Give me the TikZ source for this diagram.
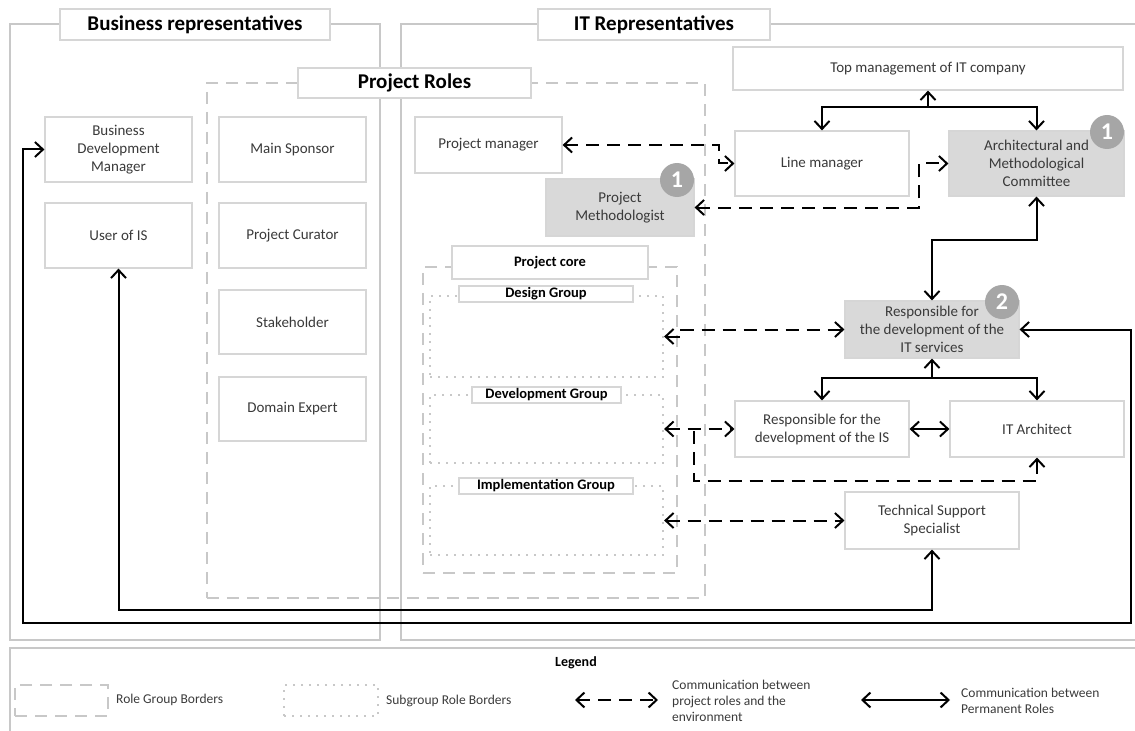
\documentclass[tikz,border=0pt]{standalone}
\usepackage{fontspec}
\setmainfont{Carlito}
\usetikzlibrary{arrows.meta}
\definecolor{framegray}{HTML}{C8C8C8}
\definecolor{boxgray}{HTML}{D6D6D6}
\definecolor{shade}{HTML}{D9D9D9}
\definecolor{badgegray}{HTML}{A6A6A6}
\definecolor{txt}{HTML}{3A3A3A}
\begin{document}
\begin{tikzpicture}[x=1bp,y=-1bp,
  >={Straight Barb[length=8bp,width=15bp]},
  rb/.style 2 args={minimum width=#1bp,minimum height=#2bp},
  frame/.style={draw=framegray,line width=2.5bp,inner sep=0},
  rolegroup/.style={draw=framegray,line width=2.5bp,dash pattern=on 12bp off 8bp,inner sep=0},
  subgroup/.style={draw=framegray,line width=2.2bp,dash pattern=on 2bp off 6bp,inner sep=0},
  title/.style={draw=boxgray,line width=1.2bp,fill=white,inner sep=0,text=black,
    font=\fontsize{21bp}{25bp}\selectfont\bfseries},
  grplabel/.style={draw=boxgray,line width=1.2bp,fill=white,inner sep=0,text=black,
    font=\fontsize{14.5bp}{17bp}\selectfont\bfseries},
  role/.style={draw=boxgray,line width=1.2bp,fill=white,inner sep=0,text=txt,align=center,
    font=\fontsize{15bp}{18bp}\selectfont},
  permrole/.style={role,fill=shade},
  badge/.style={circle,fill=badgegray,minimum size=34bp,inner sep=0,text=white,
    font=\fontsize{24bp}{24bp}\selectfont\bfseries},
  legtext/.style={inner sep=0,text=txt,align=left,font=\fontsize{13.5bp}{16bp}\selectfont},
  envlink/.style={draw=black,line width=2bp,dash pattern=on 13bp off 8bp},
  permlink/.style={draw=black,line width=2bp}
]
\useasboundingbox (0,0) rectangle (1135,731);
\clip (0,0) rectangle (1135,731);

% outer frames
\node[frame,rb={370}{616}] (bizframe) at (195,332) {};
\node[frame,rb={739}{616}] (itframe) at (770.5,332) {};
\node[frame,rb={1130}{97}] (legframe) at (575,696.5) {};

% project role groups
\node[rolegroup,rb={498}{515}] (rolesframe) at (456,340.5) {};
\node[rolegroup,rb={254}{306}] (coreframe) at (550,420) {};
\node[subgroup,rb={233}{81}] (design) at (546.5,336.5) {};
\node[subgroup,rb={233}{68}] (devgrp) at (546.5,429) {};
\node[subgroup,rb={233}{69}] (implgrp) at (546.5,520.5) {};

% titles
\node[title,rb={270}{31}] (bizlbl) at (195,24.5) {Business representatives};
\node[title,rb={232}{31}] (itlbl) at (654,24.5) {IT Representatives};
\node[title,rb={233}{30}] (roleslbl) at (414.5,83) {Project Roles};
\node[grplabel,rb={196}{33}] (corelbl) at (550,262.5) {Project core};
\node[grplabel,rb={174}{16}] (designlbl) at (546,294) {Design Group};
\node[grplabel,rb={149}{16}] (devlbl) at (546.5,395) {Development Group};
\node[grplabel,rb={174}{16}] (impllbl) at (546,486) {Implementation Group};

% business side
\node[role,rb={147}{65}] (bdm) at (118.5,149.5) {Business\\Development\\Manager};
\node[role,rb={147}{65}] (uis) at (118.5,235.5) {User of IS};
\node[role,rb={147}{65}] (sponsor) at (292.5,149.5) {Main Sponsor};
\node[role,rb={147}{65}] (curator) at (292.5,235.5) {Project Curator};
\node[role,rb={147}{64}] (stake) at (292.5,322) {Stakeholder};
\node[role,rb={147}{64}] (domain) at (292.5,409) {Domain Expert};

% IT side
\node[role,rb={147}{56}] (pm) at (488.5,145) {Project manager};
\node[permrole,rb={148}{57}] (pmeth) at (620,207.5) {Project\\Methodologist};
\node[role,rb={390}{43}] (top) at (928,68.5) {Top management of IT company};
\node[role,rb={174}{65}] (lm) at (822,163.5) {Line manager};
\node[permrole,rb={175}{65}] (comm) at (1036.5,163.5) {Architectural and\\Methodological\\Committee};
\node[permrole,rb={174}{57}] (its) at (932,329.5) {Responsible for\\the development of the\\IT services};
\node[role,rb={174}{56}] (ris) at (822,429) {Responsible for the\\development of the IS};
\node[role,rb={174}{56}] (ita) at (1037,429) {IT Architect};
\node[role,rb={174}{57}] (tss) at (932,520.5) {Technical Support\\Specialist};

% badges
\node[badge] (b1) at (677,180) {1};
\node[badge] (b2) at (1107,132) {1};
\node[badge] (b3) at (1002,302) {2};

% communication between project roles and the environment
\coordinate (pmjog) at (719,163.5);
\coordinate (mcjog) at (919,163.5);
\draw[envlink,<->] (pm.east) -| (pmjog) -- (lm.west);
\draw[envlink,<->] (pmeth.east) -| (mcjog) -- (comm.west);
\draw[envlink,<->] (design.east) -- ++(17,0) |- (its.west);
\draw[envlink,<->] (devgrp.east) -- (ris.west);
\coordinate (devbr) at (694,431);
\coordinate (devlow) at (694,480.5);
\draw[envlink,->] (devbr) -- (devlow) -| (ita.south);
\draw[envlink,<->] (implgrp.east) -- (tss.west);

% communication between permanent roles
\coordinate (tj) at (928,107);
\draw[permlink,->] (tj) -- (top.south);
\draw[permlink,->] (tj) -| (lm.north);
\draw[permlink,->] (tj) -| (comm.north);
\coordinate (cj) at (932,240);
\draw[permlink,<->] (comm.south) |- (cj) -- (its.north);
\coordinate (sj) at (932,378);
\draw[permlink,->] (sj) -- (its.south);
\draw[permlink,->] (sj) -| (ris.north);
\draw[permlink,->] (sj) -| (ita.north);
\draw[permlink,<->] (ris.east) -- (ita.west);
\coordinate (o1) at (1131,623);
\coordinate (o2) at (23,623);
\draw[permlink,<->] (its.east) -| (o1) -- (o2) |- (bdm.west);
\coordinate (iy) at (0,610);
\draw[permlink,<->] (tss.south) |- (uis.south |- iy) -- (uis.south);

% legend
\node[inner sep=0,text=black,font=\fontsize{14bp}{16bp}\selectfont\bfseries] (leghead) at (576,663) {Legend};
\node[rolegroup,rb={93}{31}] (legdash) at (61.5,700.5) {};
\node[legtext,anchor=west] (legdashtxt) at (116,700) {Role Group Borders};
\node[subgroup,rb={94}{31}] (legdot) at (331,700.5) {};
\node[legtext,anchor=west] (legdottxt) at (386,701) {Subgroup Role Borders};
\coordinate (la1) at (575,700);
\coordinate (la2) at (658,700);
\draw[envlink,<->] (la1) -- (la2);
\node[legtext,anchor=west] (legenvtxt) at (672,701) {Communication between\\project roles and the\\environment};
\coordinate (lb1) at (861,700);
\coordinate (lb2) at (950,700);
\draw[permlink,<->] (lb1) -- (lb2);
\node[legtext,anchor=west] (legpermtxt) at (961,701) {Communication between\\Permanent Roles};
\end{tikzpicture}
\end{document}
